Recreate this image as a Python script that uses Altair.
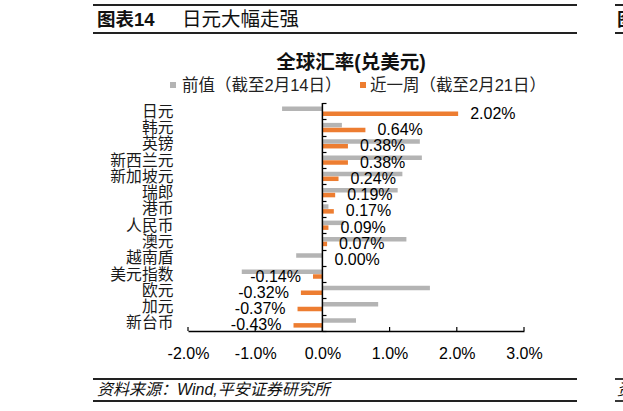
import altair as alt
import pandas as pd

categories = ['日元', '韩元', '英镑', '新西兰元', '新加坡元', '瑞郎', '港币', '人民币',
              '澳元', '越南盾', '美元指数', '欧元', '加元', '新台币']
prev_values = [-0.60, 0.29, 1.45, 1.48, 1.19, 1.12, 0.09, 0.32, 1.25, -0.39, -1.20, 1.60, 0.83, 0.50]
latest_values = [2.02, 0.64, 0.38, 0.38, 0.24, 0.19, 0.17, 0.09, 0.07, 0.00, -0.14, -0.32, -0.37, -0.43]
x_ticks = [-2, -1, 0, 1, 2, 3]

header_num = '图表14'
header_title = '日元大幅走强'
chart_title = '全球汇率(兑美元)'
legend_prev = '前值（截至2月14日）'
legend_latest = '近一周（截至2月21日）'
source_text = '资料来源：Wind,平安证券研究所'

FONT = 'Liberation Sans, Arial, Noto Sans CJK SC'
GRAY = '#B4B4B4'
ORANGE = '#ED7D31'
W, H = 336, 228
PL, PT = 188, 103

df = pd.DataFrame({'cat': categories, 'prev': prev_values, 'latest': latest_values})
df['label'] = [f'{v:.2f}%' for v in latest_values]
df['pos'] = [v >= 0 for v in latest_values]

xscale = alt.Scale(domain=[-2, 3], nice=False, zero=False)
yscale = alt.Scale(domain=categories, paddingInner=0, paddingOuter=0)
yaxis = alt.Axis(title=None, orient='left', offset=-138, domain=False, ticks=True,
                 tickSize=4, tickColor='black', tickWidth=1.2, tickBand='extent',
                 labelPadding=149, labelFontSize=15.8, labelColor='#1a1a1a',
                 labelFont=FONT, grid=False, labelOverlap=False)
xaxis = alt.Axis(title=None, values=x_ticks, ticks=False, domain=True,
                 domainColor='black', domainWidth=1.5, grid=False,
                 labelExpr="(datum.value < 0 ? '-' : '') + format(abs(datum.value), '.1f') + '%'",
                 labelFontSize=16, labelPadding=14, labelColor='black', labelFont=FONT,
                 labelOverlap=False, labelFlush=False, labelBound=False)

base = alt.Chart(df)
gray_bars = base.mark_bar(color=GRAY, size=4.5, yOffset=-2.3).encode(
    x=alt.X('prev:Q', scale=xscale, axis=xaxis),
    x2=alt.X2(datum=0),
    y=alt.Y('cat:N', sort=categories, scale=yscale, axis=yaxis),
)
orange_bars = base.mark_bar(color=ORANGE, size=4.5, yOffset=2.5).encode(
    x=alt.X('latest:Q', scale=xscale, axis=xaxis),
    x2=alt.X2(datum=0),
    y=alt.Y('cat:N', sort=categories, scale=yscale, axis=yaxis),
)
labels_pos = base.transform_filter('datum.pos').mark_text(
    align='left', baseline='middle', dx=12, yOffset=2.5, fontSize=16, font=FONT, color='black'
).encode(x=alt.X('latest:Q', scale=xscale), y=alt.Y('cat:N', sort=categories, scale=yscale), text='label:N')
labels_neg = base.transform_filter('!datum.pos').mark_text(
    align='right', baseline='middle', dx=-12, yOffset=2.5, fontSize=16, font=FONT, color='black'
).encode(x=alt.X('latest:Q', scale=xscale), y=alt.Y('cat:N', sort=categories, scale=yscale), text='label:N')

zero_df = pd.DataFrame({'z': [0]})
zero_line = alt.Chart(zero_df).mark_rule(color='black', strokeWidth=1.5).encode(
    x=alt.X('z:Q', scale=xscale), y=alt.value(0), y2=alt.value(H))

tick_df = pd.DataFrame({'t': x_ticks})
x_tick_marks = alt.Chart(tick_df).mark_rule(color='black', strokeWidth=1.2).encode(
    x=alt.X('t:Q', scale=xscale), y=alt.value(H), y2=alt.value(H - 4))

one = pd.DataFrame({'a': [0]})

def txt(text, x, y, size, weight='normal', align='left', style='normal', color='#111111'):
    return alt.Chart(one).mark_text(text=text, align=align, baseline='middle', fontSize=size,
                                    fontWeight=weight, fontStyle=style, font=FONT, color=color).encode(
        x=alt.value(x - PL), y=alt.value(y - PT))

def hline(x1, x2, y, w=2):
    return alt.Chart(one).mark_rule(color='#222222', strokeWidth=w).encode(
        x=alt.value(x1 - PL), x2=alt.value(x2 - PL), y=alt.value(y - PT))

def square(x, y, color):
    return alt.Chart(one).mark_square(color=color, size=36, opacity=1).encode(
        x=alt.value(x - PL), y=alt.value(y - PT))

decor = [
    hline(93, 577, 5), hline(93, 577, 33), hline(615, 640, 5), hline(615, 640, 33),
    hline(93, 577, 379, 1.8), hline(93, 577, 401, 1.8), hline(615, 640, 379, 1.8), hline(615, 640, 401, 1.8),
    txt(header_num, 97, 20, 18.5, weight='bold'),
    txt(header_title, 182, 20, 19.5),
    txt('图', 617, 20, 18.5, weight='bold'),
    txt(chart_title, 351, 63, 19.5, weight='bold', align='center'),
    square(173, 85, GRAY), txt(legend_prev, 182, 86, 16.5, color='#222222'),
    square(363, 85, ORANGE), txt(legend_latest, 370, 86, 16.5, color='#222222'),
    txt(source_text, 97, 390, 16, style='italic'),
    txt('资', 617, 390, 16, style='italic'),
]

chart = alt.layer(gray_bars, orange_bars, zero_line, x_tick_marks, labels_pos, labels_neg, *decor).properties(
    width=W, height=H,
    autosize=alt.AutoSizeParams(type='none'),
    padding={'left': PL, 'top': PT, 'right': 623 - PL - W, 'bottom': 411 - PT - H},
    background='white',
).configure_view(stroke=None)

chart.save('out.html', embed_options={'renderer': 'svg', 'actions': False})
